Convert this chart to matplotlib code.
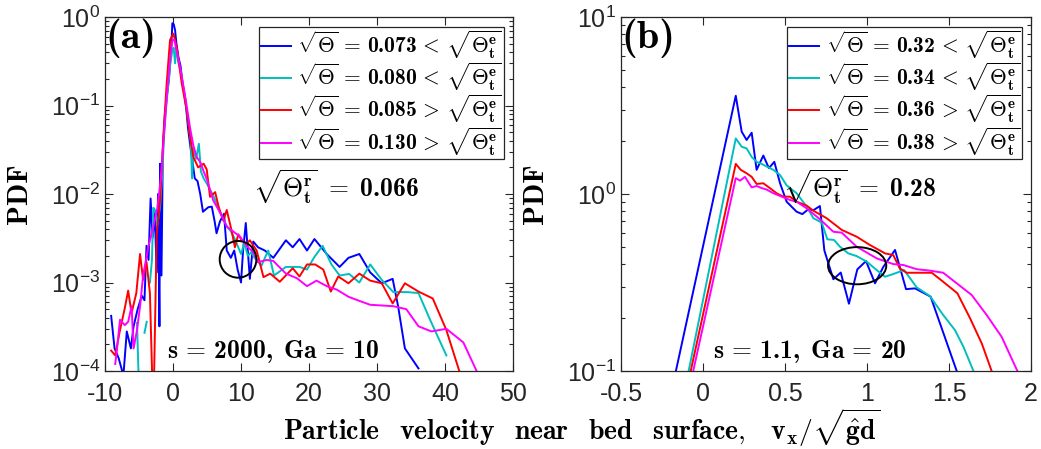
import numpy as np
import matplotlib
matplotlib.use("Agg")
import matplotlib.pyplot as plt
from matplotlib.patches import Ellipse

plt.rcParams['font.family'] = ['Liberation Sans', 'DejaVu Sans']
plt.rcParams['mathtext.fontset'] = 'cm'
plt.rcParams['axes.unicode_minus'] = False

nan = np.nan
BOLD = 'cmb10'

# ---------------- Panel (a): s = 2000, Ga = 10 ----------------
a_blue_x = [-9.1, -8.6, -8.0, -7.3, -6.8, -6.2, -5.8, -5.2, -4.6, -4.2, -3.9, -3.6, -3.3, -3.0, -2.7,
            -2.4, -2.2, -2.0, -1.9, -1.7, -1.5, -1.2, -0.9, -0.6, -0.3, -0.1, 0.1, 0.3, 0.5, 0.8,
            1.1, 1.4, 1.8, 2.2, 2.6, 2.9, 3.2, 3.6, 4.0, 4.4, 4.7, 5.2, 5.7, 6.1, 6.4, 6.9, 7.5,
            7.9, 8.5, 9.0, 9.5, 10.0, 10.3, 10.7, 11.3, 11.8, 12.5, 13.5, 14.75, 16.6, 17.6, 18.6,
            19.7, 20.8, 22.6, 24.5, 25.8, 27.4, 29.0, 30.7, 32.3, 33.1, 34.1, 36.1]
a_blue_y = [4.2e-4, 1.8e-4, 1.4e-4, 8.9e-5, 2.8e-4, 1.8e-4, 3.2e-4, 5.0e-4, 7.1e-4, 6.3e-4, 2.6e-3,
            1.8e-3, 8.9e-3, 3.2e-3, 6.3e-3, 1.3e-3, 1.0e-2, 3.2e-4, 2.2e-2, 1.2e-3, 3.2e-2, 7.9e-2,
            0.13, 0.2, 0.4, 0.85, 0.83, 0.71, 0.5, 0.35, 0.28, 0.18, 0.12, 5.6e-2, 3.2e-2, 2.2e-2,
            1.5e-2, 1.4e-2, 1.0e-2, 6.3e-3, 6.6e-3, 7.1e-3, 7.2e-3, 5.0e-3, 3.6e-3, 4.9e-3, 6.0e-3,
            2.3e-3, 1.9e-3, 2.3e-3, 1.4e-3, 1.0e-3, 2.3e-3, 4.7e-3, 1.1e-3, 2.9e-3, 2.5e-3, 2.3e-3,
            1.9e-3, 3.0e-3, 2.5e-3, 3.1e-3, 2.3e-3, 3.1e-3, 2.1e-3, 1.5e-3, 1.9e-3, 2.1e-3, 1.3e-3,
            9.8e-4, 1.1e-3, 5.4e-4, 1.8e-4, 1.07e-4]

a_cyan_x = [-5.3, -5.0, nan, -4.2, -3.87, nan, -3.4, -3.1, -2.9, -2.65, -2.3, -1.9, -1.6, -1.3, -1.0,
            -0.7, -0.4, -0.1, 0.1, 0.3, 0.5, 0.8, 1.1, 1.5, 1.9, 2.3, 2.6, 2.8, 3.0, 3.4, 3.8, 4.1,
            4.5, 5.0, 5.5, 6.0, 6.5, 7.0, 7.5, 8.0, 8.5, 9.0, 9.5, 10.0, 10.5, 11.0, 11.5, 12.0,
            13.0, 14.0, 14.85, 16.6, 18.6, 19.7, 20.8, 22.0, 23.3, 24.5, 25.9, 27.4, 29.0, 30.7,
            32.4, 34.4, 36.1, 37.8, 40.2]
a_cyan_y = [3.5e-4, 6.0e-5, nan, 2.7e-4, 3.6e-4, nan, 1.0e-3, 1.8e-3, 7.0e-3, 6.6e-3, 4.5e-3, 7.2e-3,
            1.6e-2, 5.0e-2, 0.1, 0.17, 0.3, 0.42, 0.45, 0.3, 0.45, 0.3, 0.25, 0.16, 0.1, 6.0e-2,
            4.0e-2, 1.5e-2, 3.2e-2, 2.5e-2, 3.7e-2, 1.8e-2, 1.5e-2, 1.3e-2, 1.1e-2, 9.3e-3, 7.5e-3,
            6.0e-3, 5.0e-3, 4.2e-3, 3.8e-3, 3.2e-3, 2.6e-3, 2.1e-3, 2.8e-3, 2.0e-3, 2.2e-3, 1.9e-3,
            1.55e-3, 2.3e-3, 1.2e-3, 1.5e-3, 1.5e-3, 1.4e-3, 1.95e-3, 2.6e-3, 1.6e-3, 1.2e-3,
            1.25e-3, 1.0e-3, 1.6e-3, 1.07e-3, 7.8e-4, 7.8e-4, 7.6e-4, 3.8e-4, 1.5e-4]

a_red_x = [-9.1, -8.5, -7.8, -7.1, -6.6, -6.1, -5.4, -4.85, -4.4, -3.9, -3.4, -2.9, -2.4, -1.9, -1.4,
           -0.93, -0.44, 0.05, 0.54, 1.27, 2.0, 2.5, 3.0, 3.7, 4.5, 4.95, 5.44, 6.2, 6.7, 7.4, 7.9,
           8.6, 9.1, 9.6, 10.1, 10.8, 11.3, 12.3, 13.3, 14.3, 15.7, 17.6, 18.6, 19.7, 20.9, 22.1,
           23.2, 24.3, 25.8, 27.4, 29.0, 30.7, 32.3, 34.1, 36.1, 38.2, 40.2, 42.1]
a_red_y = [1.7e-4, 1.5e-4, 2.9e-4, 5.1e-4, 8.1e-4, 4.5e-4, 7.6e-4, 2.1e-3, 1.07e-3, 1.7e-3, 7.6e-4,
           3.0e-5, 3.5e-3, 8.5e-3, 4.8e-2, 0.18, 0.55, 0.65, 0.46, 0.18, 8.9e-2, 4.5e-2, 2.6e-2,
           2.0e-2, 2.2e-2, 1.9e-2, 9.3e-3, 1.05e-2, 7.2e-3, 5.0e-3, 6.6e-3, 3.9e-3, 2.5e-3, 3.5e-3,
           3.0e-3, 2.75e-3, 3.0e-3, 2.3e-3, 1.15e-3, 1.26e-3, 1.02e-3, 1.45e-3, 1.17e-3, 1.6e-3,
           1.6e-3, 1.4e-3, 7.9e-4, 1.17e-3, 9.8e-4, 1.26e-3, 1.05e-3, 9.8e-4, 5.8e-4, 9.8e-4,
           7.9e-4, 6.6e-4, 2.9e-4, 1.0e-4]

a_mag_x = [-8.5, -8.3, -7.8, -7.1, -6.6, -6.1, -5.8, -5.3, -4.85, -4.4, -3.6, -2.9, -2.3, -1.8, -1.3,
           -0.9, -0.5, -0.1, 0.2, 0.5, 1.0, 1.5, 2.0, 2.5, 3.0, 3.5, 4.0, 4.5, 5.0, 5.9, 7.0, 7.9,
           9.0, 9.85, 10.8, 11.8, 12.5, 13.8, 14.75, 16.6, 18.2, 19.7, 21.1, 22.6, 24.1, 25.8,
           27.4, 29.0, 30.7, 32.4, 34.3, 36.1, 38.0, 40.2, 42.7, 44.7]
a_mag_y = [1.2e-4, 1.6e-4, 3.8e-4, 3.3e-4, 3.6e-4, 5.4e-4, 1.8e-4, 2.9e-4, 5.4e-4, 1.2e-3, 2.6e-3,
           4.3e-3, 7.0e-3, 1.5e-2, 5.0e-2, 0.13, 0.3, 0.55, 0.55, 0.42, 0.28, 0.17, 0.1, 5.6e-2,
           3.5e-2, 2.6e-2, 2.3e-2, 1.8e-2, 1.45e-2, 8.5e-3, 6.0e-3, 4.3e-3, 3.7e-3, 3.3e-3, 2.6e-3,
           2.2e-3, 1.7e-3, 1.8e-3, 1.75e-3, 1.26e-3, 1.12e-3, 9.1e-4, 1.05e-3, 9.1e-4, 8.3e-4,
           6.9e-4, 6.2e-4, 5.6e-4, 5.5e-4, 5.4e-4, 5.0e-4, 3.2e-4, 2.8e-4, 3.0e-4, 2.1e-4, 9.8e-5]

# ---------------- Panel (b): s = 1.1, Ga = 20 ----------------
b_blue_x = [-0.2, 0.20, 0.236, 0.266, 0.297, 0.327, 0.368, 0.402, 0.435, 0.47, 0.51, 0.571, 0.606,
            0.642, 0.673, 0.713, 0.74, 0.795, 0.84, 0.89, 0.941, 0.994, 1.049, 1.10, 1.171, 1.238,
            1.293, 1.388, 1.547, 1.6]
b_blue_y = [0.071, 3.59, 2.25, 2.02, 2.22, 1.37, 1.65, 1.40, 1.52, 1.15, 0.905, 0.794, 0.77, 0.82,
            0.81, 0.855, 0.48, 0.33, 0.36, 0.24, 0.375, 0.418, 0.313, 0.388, 0.483, 0.29, 0.293,
            0.263, 0.1, 0.075]

b_cyan_x = [-0.12, 0.20, 0.236, 0.266, 0.297, 0.327, 0.358, 0.388, 0.429, 0.47, 0.51, 0.571, 0.632,
            0.673, 0.724, 0.758, 0.799, 0.835, 0.886, 0.937, 0.998, 1.059, 1.11, 1.16, 1.226,
            1.303, 1.384, 1.465, 1.537, 1.588, 1.649, 1.69]
b_cyan_y = [0.071, 2.06, 1.85, 1.81, 1.62, 1.52, 1.48, 1.43, 1.37, 1.28, 1.12, 1.01, 0.85, 0.73,
            0.69, 0.555, 0.55, 0.504, 0.462, 0.446, 0.415, 0.372, 0.341, 0.353, 0.372, 0.297,
            0.265, 0.207, 0.17, 0.137, 0.1, 0.08]

b_red_x = [-0.1, 0.20, 0.23, 0.266, 0.297, 0.327, 0.368, 0.408, 0.449, 0.49, 0.53, 0.571, 0.632,
           0.673, 0.754, 0.846, 0.937, 1.018, 1.11, 1.16, 1.20, 1.242, 1.323, 1.395, 1.465, 1.551,
           1.628, 1.70, 1.76, 1.8]
b_red_y = [0.078, 1.48, 1.37, 1.31, 1.25, 1.14, 1.15, 1.08, 1.01, 0.966, 0.966, 0.905, 0.86, 0.805,
           0.73, 0.627, 0.574, 0.515, 0.462, 0.452, 0.38, 0.359, 0.359, 0.359, 0.319, 0.275,
           0.199, 0.143, 0.1, 0.08]

b_mag_x = [-0.08, 0.20, 0.226, 0.256, 0.297, 0.327, 0.358, 0.388, 0.429, 0.47, 0.53, 0.571, 0.632,
           0.713, 0.795, 0.846, 0.937, 1.059, 1.16, 1.222, 1.303, 1.384, 1.465, 1.547, 1.638,
           1.73, 1.821, 1.917, 1.95]
b_mag_y = [0.082, 1.23, 1.19, 1.25, 1.09, 1.11, 1.08, 1.06, 1.01, 0.975, 0.925, 0.905, 0.83, 0.72,
           0.612, 0.605, 0.504, 0.433, 0.402, 0.397, 0.376, 0.369, 0.359, 0.313, 0.269, 0.207,
           0.156, 0.1, 0.085]

colors = ['#0000FF', '#00BFBF', '#FF0000', '#FF00FF']

a_values = ['0.073', '0.080', '0.085', '0.130']
b_values = ['0.32', '0.34', '0.36', '0.38']
relations = ['<', '<', '>', '>']

def leg_label(val, rel):
    return (r'$\sqrt{\Theta}\,=\,$' + val + r'$\,' + rel +
            r'\,\sqrt{\Theta_\mathbf{t}^\mathbf{e}}$')

a_labels = [leg_label(v, r) for v, r in zip(a_values, relations)]
b_labels = [leg_label(v, r) for v, r in zip(b_values, relations)]

a_xticks = [-10, 0, 10, 20, 30, 40, 50]
a_xticklabels = ['-10', '0', '10', '20', '30', '40', '50']
a_yticks = [1e-4, 1e-3, 1e-2, 1e-1, 1e0]
a_yticklabels = [r'$\mathdefault{10^{-4}}$', r'$\mathdefault{10^{-3}}$', r'$\mathdefault{10^{-2}}$',
                 r'$\mathdefault{10^{-1}}$', r'$\mathdefault{10^{0}}$']
b_xticks = [-0.5, 0, 0.5, 1, 1.5, 2]
b_xticklabels = ['-0.5', '0', '0.5', '1', '1.5', '2']
b_yticks = [1e-1, 1e0, 1e1]
b_yticklabels = [r'$\mathdefault{10^{-1}}$', r'$\mathdefault{10^{0}}$', r'$\mathdefault{10^{1}}$']

fig = plt.figure(figsize=(10.41, 4.49), dpi=100)
ax_a = fig.add_axes([0.1009, 0.1737, 0.3919, 0.7884])
ax_b = fig.add_axes([0.5965, 0.1737, 0.3939, 0.7884])

edge = '#262626'

def style(ax, xlim, ylim, xt, xtl, yt, ytl, w):
    ax.set_yscale('log')
    ax.set_xlim(*xlim)
    ax.set_ylim(*ylim)
    ax.set_xticks(xt)
    ax.set_xticklabels(xtl)
    ax.set_yticks(yt)
    ax.set_yticklabels(ytl)
    ax.tick_params(which='both', direction='in', top=True, right=True, colors=edge,
                   labelcolor='#262626', labelsize=18, width=0.8)
    ax.tick_params(which='major', length=6)
    ax.tick_params(which='minor', length=3)
    ax.tick_params(axis='x', pad=8)
    for s in ax.spines.values():
        s.set_color(edge)
        s.set_linewidth(0.9)
    ax.set_ylabel('PDF', fontsize=21, family=BOLD)
    ax.yaxis.set_label_coords(-72.0 / w, 0.5)

lw = 1.4
for xs, ys, c, lab in zip([a_blue_x, a_cyan_x, a_red_x, a_mag_x],
                          [a_blue_y, a_cyan_y, a_red_y, a_mag_y], colors, a_labels):
    ax_a.plot(xs, ys, color=c, lw=lw, label=lab)
for xs, ys, c, lab in zip([b_blue_x, b_cyan_x, b_red_x, b_mag_x],
                          [b_blue_y, b_cyan_y, b_red_y, b_mag_y], colors, b_labels):
    ax_b.plot(xs, ys, color=c, lw=lw, label=lab)

style(ax_a, (-10, 50), (1e-4, 1e0), a_xticks, a_xticklabels, a_yticks, a_yticklabels, 408)
style(ax_b, (-0.5, 2), (1e-1, 1e1), b_xticks, b_xticklabels, b_yticks, b_yticklabels, 410)

for ax, x0 in [(ax_a, 0.978), (ax_b, 0.977)]:
    leg = ax.legend(loc='upper right', bbox_to_anchor=(x0, 0.9726), borderaxespad=0,
                    prop={'family': BOLD, 'size': 15.5}, handlelength=1.4, handletextpad=0.3,
                    labelspacing=0.0, borderpad=0.08, fancybox=False, framealpha=1)
    leg.get_frame().set_edgecolor(edge)
    leg.get_frame().set_linewidth(0.9)

ax_a.add_patch(Ellipse((0.326, 0.3155), 0.09, 0.1037, transform=ax_a.transAxes,
                       fill=False, edgecolor='black', lw=1.4, zorder=5))
ax_b.add_patch(Ellipse((0.576, 0.2975), 0.142, 0.105, transform=ax_b.transAxes,
                       fill=False, edgecolor='black', lw=1.4, zorder=5))

ax_a.text(0.0, 0.995, '(a)', transform=ax_a.transAxes, ha='left', va='top', fontsize=29, family=BOLD)
ax_b.text(0.0, 0.995, '(b)', transform=ax_b.transAxes, ha='left', va='top', fontsize=29, family=BOLD)

ax_a.text(0.566, 0.52, r'$\sqrt{\Theta_\mathbf{t}^\mathbf{r}}\ =\ $0.066', transform=ax_a.transAxes,
          ha='center', va='center', fontsize=18.5, family=BOLD)
ax_b.text(0.583, 0.52, r'$\sqrt{\Theta_\mathbf{t}^\mathbf{r}}\ =\ $0.28', transform=ax_b.transAxes,
          ha='center', va='center', fontsize=18.5, family=BOLD)

ax_a.text(0.413, 0.0565, r'$\mathbf{s}\,=\,$2000,$\ \,\mathbf{Ga}\,=\,$10', transform=ax_a.transAxes,
          ha='center', va='center', fontsize=18.5, family=BOLD)
ax_b.text(0.461, 0.0565, r'$\mathbf{s}\,=\,$1.1,$\ \,\mathbf{Ga}\,=\,$20', transform=ax_b.transAxes,
          ha='center', va='center', fontsize=18.5, family=BOLD)

fig.text(0.559, 0.02,
         r'$\mathbf{Particle\ \ \,velocity\ \ \,near\ \ \,bed\ \ \,surface,\ \ \,v_x/\sqrt{\hat{g}d}}$',
         ha='center', va='baseline', fontsize=20)

fig.savefig('out.png', dpi=100)
